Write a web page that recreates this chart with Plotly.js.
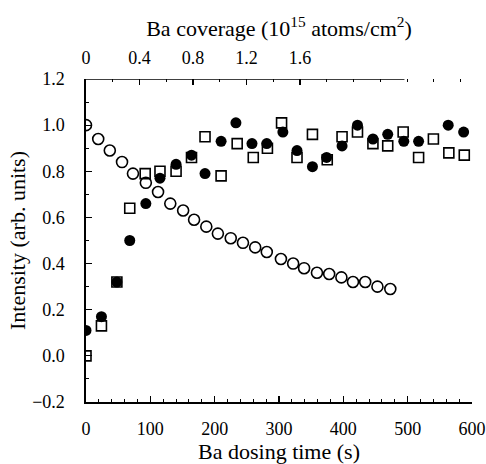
<!DOCTYPE html>
<html>
<head>
<meta charset="utf-8">
<script src="https://cdn.plot.ly/plotly-3.0.1.min.js"></script>
<style>html,body{margin:0;padding:0;background:#fff;}#chart{width:486px;height:464px;}</style>
</head>
<body>
<div id="chart"></div>
<script>
// Open circles (decaying signal)
const openCircleTime = [0, 19, 37, 56, 73, 93, 112, 131, 151, 168, 187, 205, 225, 244, 263, 281, 303, 322, 339, 359, 378, 397, 415, 434, 453, 473];
const openCircleVal  = [1.00, 0.94, 0.89, 0.84, 0.79, 0.75, 0.71, 0.66, 0.63, 0.59, 0.56, 0.53, 0.51, 0.49, 0.47, 0.45, 0.42, 0.40, 0.38, 0.36, 0.355, 0.34, 0.32, 0.32, 0.30, 0.29];

// Filled circles
const filledTime = [0, 24, 48, 68, 93, 115, 140, 164, 185, 210, 233, 258, 281, 306, 328, 352, 374, 398, 422, 446, 469, 494, 517, 563, 587];
const filledVal  = [0.11, 0.17, 0.32, 0.50, 0.66, 0.77, 0.83, 0.87, 0.79, 0.93, 1.01, 0.92, 0.92, 0.97, 0.89, 0.82, 0.86, 0.91, 1.00, 0.94, 0.96, 0.93, 0.93, 1.00, 0.97];

// Open squares
const squareTime = [0, 24, 48, 68, 92, 115, 140, 164, 185, 210, 235, 260, 282, 304, 328, 352, 375, 398, 422, 446, 469, 493, 517, 540, 564, 588];
const squareVal  = [0.00, 0.13, 0.32, 0.64, 0.79, 0.80, 0.80, 0.86, 0.95, 0.78, 0.92, 0.86, 0.90, 1.01, 0.86, 0.96, 0.85, 0.95, 0.97, 0.92, 0.91, 0.97, 0.86, 0.94, 0.88, 0.87];

// Axes
const timeTicks = [0, 100, 200, 300, 400, 500, 600];
const intensityTicks = [-0.2, 0.0, 0.2, 0.4, 0.6, 0.8, 1.0, 1.2];
const coverageTicks = [0, 0.4, 0.8, 1.2, 1.6];
const coverageTickText = ["0", "0.4", "0.8", "1.2", "1.6"];
const coverageAtMaxTime = 2.886; // coverage corresponding to 600 s

const font = '"Liberation Serif", "DejaVu Serif", serif';

const traces = [
  {
    x: squareTime, y: squareVal, type: 'scatter', mode: 'markers',
    marker: {symbol: 'square-open', size: 10, color: '#000', line: {width: 1.6, color: '#000'}},
    hoverinfo: 'skip', showlegend: false
  },
  {
    x: filledTime, y: filledVal, type: 'scatter', mode: 'markers',
    marker: {symbol: 'circle', size: 11, color: '#000', line: {width: 0}},
    hoverinfo: 'skip', showlegend: false
  },
  {
    x: openCircleTime, y: openCircleVal, type: 'scatter', mode: 'markers',
    marker: {symbol: 'circle-open', size: 11, color: '#000', line: {width: 1.6, color: '#000'}},
    hoverinfo: 'skip', showlegend: false
  },
  {
    x: [0], y: [null], xaxis: 'x2', yaxis: 'y', type: 'scatter', mode: 'markers',
    hoverinfo: 'skip', showlegend: false
  }
];

const layout = {
  width: 486, height: 464,
  margin: {l: 86, r: 14, t: 79, b: 62},
  paper_bgcolor: '#fff', plot_bgcolor: '#fff',
  font: {family: font, color: '#000', size: 17},
  showlegend: false,
  xaxis: {
    range: [0, 600], tickvals: timeTicks, ticks: 'inside', ticklen: 6, tickwidth: 1.2, tickcolor: '#000',
    minor: {dtick: 20, ticks: 'inside', ticklen: 3, tickcolor: '#000', tickwidth: 1},
    showline: true, linecolor: '#000', linewidth: 1.6, showgrid: false, zeroline: false,
    tickfont: {family: font, size: 18}, ticklabelstandoff: 10,
    title: {text: 'Ba dosing time (s)', font: {family: font, size: 22}, standoff: 0},
    automargin: false
  },
  xaxis2: {
    overlaying: 'x', side: 'top', anchor: 'y', range: [0, coverageAtMaxTime],
    tickvals: coverageTicks, ticktext: coverageTickText,
    ticks: 'inside', ticklen: 6, tickwidth: 1.2, tickcolor: '#000',
    minor: {dtick: 0.2, ticks: 'inside', ticklen: 3, tickcolor: '#000', tickwidth: 1},
    showline: false, showgrid: false, zeroline: false,
    tickfont: {family: font, size: 18}, ticklabelstandoff: 10,
    title: {text: 'Ba coverage (10<sup>15</sup> atoms/cm<sup>2</sup>)', font: {family: font, size: 22}, standoff: 5},
    automargin: false
  },
  yaxis: {
    range: [-0.2, 1.2], tickvals: intensityTicks, tickformat: '.1f',
    ticks: 'inside', ticklen: 6, tickwidth: 1.2, tickcolor: '#000',
    minor: {dtick: 0.1, ticks: 'inside', ticklen: 3, tickcolor: '#000', tickwidth: 1},
    showline: true, linecolor: '#000', linewidth: 1.6, showgrid: false, zeroline: false,
    tickfont: {family: font, size: 18}, ticklabelstandoff: 16,
    title: {text: 'Intensity (arb. units)', font: {family: font, size: 22}, standoff: 0},
    automargin: false
  },
  shapes: [
    {type: 'line', xref: 'x', yref: 'y', x0: 0, x1: 495, y0: 1.2, y1: 1.2, line: {color: '#000', width: 1.6}}
  ]
};

Plotly.newPlot('chart', traces, layout, {staticPlot: true, displayModeBar: false});
</script>
</body>
</html>
